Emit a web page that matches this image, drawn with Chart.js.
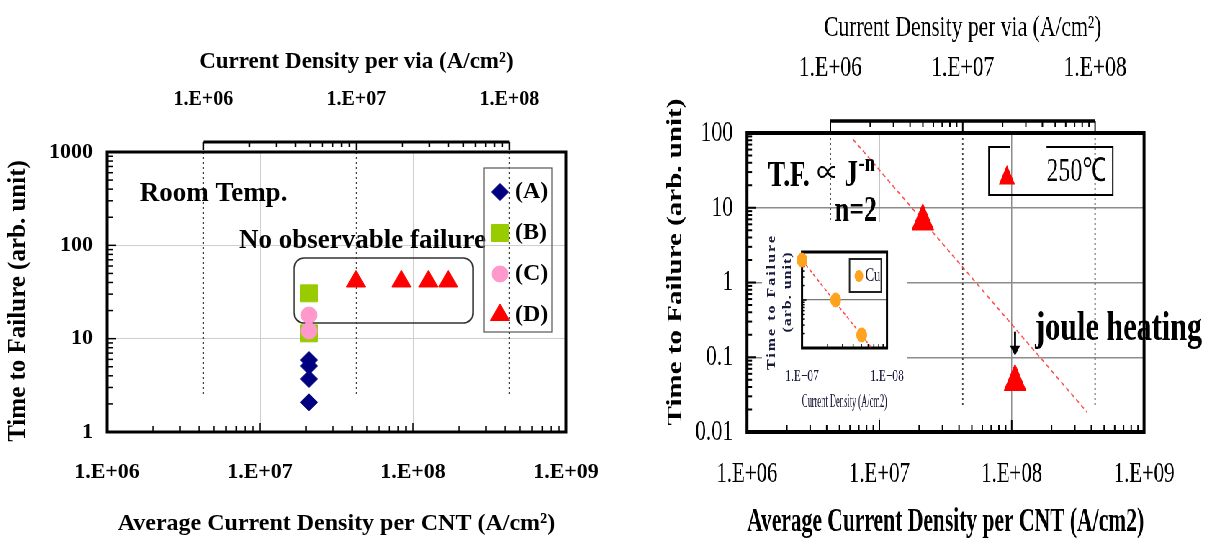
<!DOCTYPE html>
<html>
<head>
<meta charset="utf-8">
<title>CNT via lifetime</title>
<script src="https://cdn.jsdelivr.net/npm/chart.js@4.4.1/dist/chart.umd.min.js"></script>
<style>
  html, body { margin: 0; padding: 0; background: #fff; }
  body { width: 1208px; height: 546px; position: relative; overflow: hidden; }
  canvas { display: block; }
  #leftPanel { position: absolute; left: 0; top: 0; }
  /* the right-hand figure is horizontally squeezed in the original */
  #rightPanel { position: absolute; left: 600px; top: 0; width: 845px; height: 546px;
                transform: scaleX(0.72); transform-origin: 0 0; }
  #insetPanel { position: absolute; left: 225px; top: 222px; width: 201px; height: 196px; background: #fff; }
</style>
</head>
<body>
<div id="leftPanel"><canvas id="roomTemp" width="600" height="546"></canvas></div>
<div id="rightPanel">
  <canvas id="hotTemp" width="845" height="546"></canvas>
  <div id="insetPanel"><canvas id="cuInset" width="201" height="196"></canvas></div>
</div>
<script>
// room temperature, current density per CNT vs time to failure
var densityA = [2.09e7, 2.09e7, 2.09e7, 2.09e7];
var failA = [5.9, 5.1, 3.7, 2.08];
var densityB = [2.09e7, 2.09e7];
var failB = [30.6, 11.4];
var densityC = [2.09e7, 2.09e7];
var failC = [17.9, 12.1];
var densityD = [4.24e7, 8.4e7, 1.26e8, 1.7e8];
var failD = [41, 41, 41, 41];

// 250C
var hotDensity = [2.13e7, 1.06e8];
var hotFail = [6.6, 0.047];
var hotFitDensity = [6.3e6, 3.7e8];
var hotFitFail = [83, 0.0185];

// Cu inset
var cuDensity = [1.0e7, 2.49e7, 5.04e7];
var cuFail = [6.8, 1.0, 0.187];
var cuFitDensity = [1.0e7, 6.6e7];
var cuFitFail = [6.8, 0.1];

// ticks
var cntTicks = [1e6, 1e7, 1e8, 1e9];
var viaTicks = [1e6, 1e7, 1e8];
var roomFailTicks = [1, 10, 100, 1000];
var hotFailTicks = [0.01, 0.1, 1, 10, 100];
var cuDensityTicks = [1e7, 1e8];
var cuFailTicks = [0.1, 1, 10];

// per-via density axis sits this many decades left of the per-CNT one
var viaShift = Math.pow(10, 0.63);

var serif = '"Liberation Serif", "Times New Roman", serif';
Chart.defaults.font.family = serif;
Chart.defaults.color = '#000';

function pts(xs, ys) {
  return xs.map(function (x, i) { return { x: x, y: ys[i] }; });
}
function sci(v) {
  var e = Math.round(Math.log10(v));
  return '1.E' + (e < 0 ? '-' : '+') + String(Math.abs(e)).padStart(2, '0');
}
function plain(v) { return String(v); }
function fixTicks(list) {
  return function (scale) { scale.ticks = list.map(function (v) { return { value: v }; }); };
}
function fixHeight(h) {
  return function (scale) { scale.height = h; scale.paddingLeft = 0; scale.paddingRight = 0; };
}
function fixWidth(w) {
  return function (scale) { scale.width = w; scale.paddingTop = 0; scale.paddingBottom = 0; };
}
function logSteps(min, max) {
  var out = [];
  var e0 = Math.floor(Math.log10(min) + 1e-9), e1 = Math.ceil(Math.log10(max) - 1e-9);
  for (var e = e0; e <= e1; e++) {
    for (var m = 1; m <= 9; m++) {
      var v = m * Math.pow(10, e);
      if (v >= min * 0.999 && v <= max * 1.001) out.push({ v: v, major: m === 1 });
    }
  }
  return out;
}
function vText(ctx, text, x, y, spacing) {
  ctx.save();
  ctx.translate(x, y);
  ctx.rotate(-Math.PI / 2);
  ctx.letterSpacing = spacing || '0px';
  ctx.fillText(text, 0, 0);
  ctx.restore();
}

// frame, inner ticks, per-via bar on top, dotted guides
function paper(cfg) {
  return {
    id: 'paper',
    beforeDatasetsDraw: function (chart) {
      var ctx = chart.ctx, a = chart.chartArea, s = chart.scales;
      ctx.save();
      if (s.xv && cfg.dotEnd) {
        var yEnd = s.y.getPixelForValue(cfg.dotEnd);
        ctx.strokeStyle = '#404040';
        ctx.lineWidth = cfg.dotWidth;
        ctx.setLineDash([2, 3]);
        viaTicks.forEach(function (v) {
          var px = s.xv.getPixelForValue(v);
          ctx.beginPath(); ctx.moveTo(px, a.top); ctx.lineTo(px, yEnd); ctx.stroke();
        });
        ctx.setLineDash([]);
      }
      ctx.strokeStyle = '#000';
      ctx.lineWidth = cfg.tickWidth;
      logSteps(s.y.min, s.y.max).forEach(function (t) {
        var p = s.y.getPixelForValue(t.v);
        ctx.beginPath(); ctx.moveTo(a.left, p); ctx.lineTo(a.left + (t.major ? cfg.major : cfg.minor), p); ctx.stroke();
      });
      logSteps(s.x.min, s.x.max).forEach(function (t) {
        var p = s.x.getPixelForValue(t.v);
        ctx.beginPath(); ctx.moveTo(p, a.bottom); ctx.lineTo(p, a.bottom - (t.major ? cfg.major : cfg.minor)); ctx.stroke();
      });
      ctx.lineWidth = cfg.frame;
      ctx.strokeRect(a.left, a.top, a.right - a.left, a.bottom - a.top);
      if (s.xv) {
        var lo = viaTicks[0], hi = viaTicks[viaTicks.length - 1];
        var y0 = a.top - cfg.barGap;
        ctx.lineWidth = cfg.barWidth;
        ctx.beginPath(); ctx.moveTo(s.xv.getPixelForValue(lo), y0); ctx.lineTo(s.xv.getPixelForValue(hi), y0); ctx.stroke();
        ctx.lineWidth = cfg.tickWidth;
        logSteps(lo, hi).forEach(function (t) {
          var p = s.xv.getPixelForValue(t.v);
          ctx.beginPath(); ctx.moveTo(p, y0); ctx.lineTo(p, y0 + (t.major ? cfg.barMajor : cfg.barMinor)); ctx.stroke();
        });
        ctx.fillStyle = '#000';
        ctx.font = cfg.viaTitle.font;
        ctx.textAlign = 'center';
        ctx.textBaseline = 'middle';
        ctx.fillText(cfg.viaTitle.text, s.xv.getPixelForValue(viaTicks[1]), cfg.viaTitle.y);
      }
      if (cfg.yTitle) {
        ctx.fillStyle = '#000';
        ctx.font = cfg.yTitle.font;
        ctx.textAlign = 'center';
        ctx.textBaseline = 'middle';
        vText(ctx, cfg.yTitle.text, cfg.yTitle.x, cfg.yTitle.y);
      }
      ctx.restore();
      if (cfg.under) cfg.under(chart);
    },
    afterDraw: function (chart) {
      if (cfg.over) cfg.over(chart);
    }
  };
}

function baseOptions(padding) {
  return {
    responsive: false,
    animation: false,
    devicePixelRatio: 1,
    layout: { autoPadding: false, padding: padding },
    plugins: { legend: { display: false }, tooltip: { enabled: false } },
    events: []
  };
}

// ---------- left: room temperature ----------
var noFailBox = { x0: 1.67e7, x1: 2.47e8, y0: 73, y1: 14.7 };

function roomUnder(chart) {
  var ctx = chart.ctx, x = chart.scales.x, y = chart.scales.y;
  var x0 = x.getPixelForValue(noFailBox.x0), x1 = x.getPixelForValue(noFailBox.x1);
  var y0 = y.getPixelForValue(noFailBox.y0), y1 = y.getPixelForValue(noFailBox.y1);
  var r = 10;
  ctx.save();
  ctx.strokeStyle = '#333';
  ctx.lineWidth = 1.5;
  ctx.beginPath();
  ctx.moveTo(x0 + r, y0);
  ctx.arcTo(x1, y0, x1, y1, r);
  ctx.arcTo(x1, y1, x0, y1, r);
  ctx.arcTo(x0, y1, x0, y0, r);
  ctx.arcTo(x0, y0, x1, y0, r);
  ctx.closePath();
  ctx.stroke();
  ctx.restore();
}

function roomOver(chart) {
  var ctx = chart.ctx, a = chart.chartArea, x = chart.scales.x, y = chart.scales.y;
  ctx.save();
  ctx.fillStyle = '#000';
  ctx.textAlign = 'left';
  ctx.textBaseline = 'alphabetic';
  ctx.font = 'bold 27px ' + serif;
  ctx.fillText('Room Temp.', x.getPixelForValue(1.64e6), y.getPixelForValue(299));
  ctx.fillText('No observable failure', x.getPixelForValue(7.3e6), y.getPixelForValue(93.6));

  var bx = a.left + 377, by = a.top + 16, bw = 68, bh = 164;
  ctx.strokeStyle = '#555';
  ctx.lineWidth = 1.2;
  ctx.strokeRect(bx, by, bw, bh);
  ctx.font = 'bold 24px ' + serif;
  ctx.textBaseline = 'middle';
  chart.data.datasets.forEach(function (ds, i) {
    var cy = by + 24 + i * 41;
    ctx.fillStyle = ds.backgroundColor;
    ctx.strokeStyle = ds.borderColor;
    ctx.lineWidth = 1;
    Chart.helpers.drawPoint(ctx, { pointStyle: ds.pointStyle, rotation: 0, radius: ds.pointRadius, borderWidth: 1 }, bx + 16, cy);
    ctx.fillStyle = '#000';
    ctx.fillText(ds.label, bx + 31, cy);
  });
  ctx.restore();
}

new Chart(document.getElementById('roomTemp'), {
  type: 'scatter',
  data: {
    datasets: [
      { label: '(A)', data: pts(densityA, failA), pointStyle: 'rectRot', pointRadius: 8.5,
        backgroundColor: '#000080', borderColor: '#000080', order: 1 },
      { label: '(B)', data: pts(densityB, failB), pointStyle: 'rect', pointRadius: 12,
        backgroundColor: '#99cc00', borderColor: '#99cc00', order: 3 },
      { label: '(C)', data: pts(densityC, failC), pointStyle: 'circle', pointRadius: 8,
        backgroundColor: '#ff99cc', borderColor: '#ff99cc', order: 2 },
      { label: '(D)', data: pts(densityD, failD), pointStyle: 'triangle', pointRadius: 11,
        backgroundColor: '#ff0000', borderColor: '#ff0000', order: 4 }
    ]
  },
  options: Object.assign(baseOptions({ left: 0, top: 0, right: 34, bottom: 0 }), {
    scales: {
      x: {
        type: 'logarithmic', position: 'bottom', min: 1e6, max: 1e9,
        afterFit: fixHeight(114), afterBuildTicks: fixTicks(cntTicks),
        grid: { color: '#cfcfcf', lineWidth: 1, drawTicks: false },
        border: { display: false },
        ticks: { callback: sci, font: { size: 22, weight: 'bold' }, padding: 27, maxRotation: 0, autoSkip: false },
        title: { display: true, text: 'Average Current Density per CNT (A/cm²)',
                 font: { size: 24, weight: 'bold' }, padding: { top: 0, bottom: 8 } }
      },
      xv: {
        type: 'logarithmic', position: 'top', min: 1e6 / viaShift, max: 1e9 / viaShift,
        afterFit: fixHeight(152), afterBuildTicks: fixTicks(viaTicks),
        grid: { display: false, drawTicks: false }, border: { display: false },
        ticks: { callback: sci, font: { size: 20, weight: 'bold' }, padding: 40, maxRotation: 0, autoSkip: false }
      },
      y: {
        type: 'logarithmic', position: 'left', min: 1, max: 1000,
        afterFit: fixWidth(107), afterBuildTicks: fixTicks(roomFailTicks),
        grid: { color: '#cfcfcf', lineWidth: 1, drawTicks: false },
        border: { display: false },
        ticks: { callback: plain, font: { size: 22, weight: 'bold' }, padding: 14 }
      }
    }
  }),
  plugins: [paper({
    frame: 3, tickWidth: 1.5, major: 9, minor: 6,
    barGap: 10, barWidth: 3, barMajor: 8, barMinor: 5,
    dotEnd: 2.37, dotWidth: 1.2,
    viaTitle: { text: 'Current Density per via (A/cm²)', font: 'bold 23px ' + serif, y: 62 },
    yTitle: { text: 'Time to Failure (arb. unit)', font: 'bold 25px ' + serif, x: 19, y: 301 },
    under: roomUnder, over: roomOver
  })]
});

// ---------- right: 250C ----------
function hotOver(chart) {
  var ctx = chart.ctx, a = chart.chartArea, x = chart.scales.x, y = chart.scales.y;
  ctx.save();
  ctx.fillStyle = '#000';
  ctx.textAlign = 'left';
  ctx.textBaseline = 'alphabetic';
  var tx = x.getPixelForValue(1.44e6), ty = y.getPixelForValue(19.5);
  ctx.font = 'bold 36px ' + serif;
  ctx.fillText('T.F.', tx, ty);
  ctx.font = '30px "Noto Sans CJK JP", "DejaVu Sans", sans-serif';
  ctx.fillText('∝', tx + 68, ty - 3);
  ctx.font = 'bold 38px ' + serif;
  ctx.fillText('J', tx + 106, ty);
  ctx.font = 'bold 25px ' + serif;
  ctx.fillText('-n', tx + 126, ty - 15);
  ctx.font = 'bold 36px ' + serif;
  ctx.fillText('n=2', x.getPixelForValue(4.6e6), y.getPixelForValue(6.6));
  ctx.font = 'bold 42px ' + serif;
  ctx.fillText('joule heating', x.getPixelForValue(1.5e8), y.getPixelForValue(0.172));

  // arrow onto the joule-heated point
  var ax = x.getPixelForValue(hotDensity[1]);
  var ay0 = y.getPixelForValue(0.22), ay1 = y.getPixelForValue(0.105);
  ctx.strokeStyle = '#000';
  ctx.lineWidth = 2.8;
  ctx.beginPath(); ctx.moveTo(ax, ay0); ctx.lineTo(ax, ay1 - 8); ctx.stroke();
  ctx.beginPath(); ctx.moveTo(ax - 7, ay1 - 10); ctx.lineTo(ax + 7, ay1 - 10); ctx.lineTo(ax, ay1); ctx.closePath(); ctx.fill();

  // legend
  var bx = a.left + 336, by = 147, bw = 172, bh = 48;
  ctx.lineWidth = 2;
  ctx.beginPath();
  ctx.moveTo(bx + 80, by); ctx.lineTo(bx + bw, by); ctx.lineTo(bx + bw, by + bh);
  ctx.lineTo(bx, by + bh); ctx.lineTo(bx, by); ctx.lineTo(bx + 29, by);
  ctx.stroke();
  var ds = chart.data.datasets[0];
  ctx.fillStyle = ds.backgroundColor;
  Chart.helpers.drawPoint(ctx, { pointStyle: 'triangle', rotation: 0, radius: 13, borderWidth: 0 }, bx + 25, by + 31);
  ctx.fillStyle = '#000';
  ctx.font = '33px ' + serif;
  ctx.fillText(ds.label, bx + 80, by + 34);
  ctx.restore();
}

new Chart(document.getElementById('hotTemp'), {
  type: 'scatter',
  data: {
    datasets: [
      { label: '250℃', data: pts(hotDensity, hotFail), pointStyle: 'triangle', pointRadius: 17.5,
        backgroundColor: '#ff0000', borderColor: '#ff0000', order: 1 },
      { label: 'fit', data: pts(hotFitDensity, hotFitFail), showLine: true, pointRadius: 0,
        borderColor: 'rgba(255,50,50,0.85)', borderWidth: 1.6, borderDash: [5, 4], order: 2 }
    ]
  },
  options: Object.assign(baseOptions({ left: 0, top: 0, right: 89.4, bottom: 0 }), {
    scales: {
      x: {
        type: 'logarithmic', position: 'bottom', min: 1e6, max: 1e9,
        afterFit: fixHeight(114), afterBuildTicks: fixTicks(cntTicks),
        grid: { color: '#8c8c8c', lineWidth: 1.5, drawTicks: false },
        border: { display: false },
        ticks: { callback: sci, font: { size: 29 }, padding: 24.6, maxRotation: 0, autoSkip: false },
        title: { display: true, text: 'Average Current Density per CNT (A/cm2)',
                 font: { size: 33, weight: 'bold' }, padding: { top: 0, bottom: 3.5 } }
      },
      xv: {
        type: 'logarithmic', position: 'top', min: 1e6 / viaShift, max: 1e9 / viaShift,
        afterFit: fixHeight(133), afterBuildTicks: fixTicks(viaTicks),
        grid: { display: false, drawTicks: false }, border: { display: false },
        ticks: { callback: sci, font: { size: 30 }, padding: 47, maxRotation: 0, autoSkip: false }
      },
      y: {
        type: 'logarithmic', position: 'left', min: 0.01, max: 100,
        afterFit: fixWidth(204.2), afterBuildTicks: fixTicks(hotFailTicks),
        grid: { color: '#8c8c8c', lineWidth: 1.5, drawTicks: false },
        border: { display: false },
        ticks: { callback: plain, font: { size: 30 }, padding: 19.5 }
      }
    }
  }),
  plugins: [paper({
    frame: 4, tickWidth: 2, major: 12, minor: 7,
    barGap: 12, barWidth: 3.5, barMajor: 10, barMinor: 6,
    dotEnd: 0.0217, dotWidth: 1.8,
    viaTitle: { text: 'Current Density per via (A/cm²)', font: '30px ' + serif, y: 28 },
    yTitle: { text: 'Time to Failure (arb. unit)', font: 'bold 29px ' + serif, x: 105.6, y: 262 },
    over: hotOver
  })]
});

// ---------- inset: Cu ----------
var insetInk = '#1a1a3a';

function cuOver(chart) {
  var ctx = chart.ctx, a = chart.chartArea;
  ctx.save();
  ctx.fillStyle = insetInk;
  ctx.textAlign = 'center';
  ctx.textBaseline = 'middle';
  ctx.font = 'bold 16px ' + serif;
  vText(ctx, 'Time to Failure', 14, 80, '2px');
  vText(ctx, '(arb. unit)', 36, 70, '1px');

  var bx = a.left + 66, by = a.top + 7, bw = 44, bh = 33;
  ctx.strokeStyle = '#222';
  ctx.lineWidth = 2;
  ctx.strokeRect(bx, by, bw, bh);
  var ds = chart.data.datasets[0];
  ctx.fillStyle = ds.backgroundColor;
  Chart.helpers.drawPoint(ctx, { pointStyle: 'circle', rotation: 0, radius: 6, borderWidth: 0 }, bx + 13, by + 17);
  ctx.fillStyle = insetInk;
  ctx.textAlign = 'left';
  ctx.font = '18px ' + serif;
  ctx.fillText(ds.label, bx + 22, by + 17);
  ctx.restore();
}

new Chart(document.getElementById('cuInset'), {
  type: 'scatter',
  data: {
    datasets: [
      { label: 'Cu', data: pts(cuDensity, cuFail), pointStyle: 'circle', pointRadius: 7,
        backgroundColor: '#ffa21f', borderColor: '#ffa21f', clip: false, order: 1 },
      { label: 'fit', data: pts(cuFitDensity, cuFitFail), showLine: true, pointRadius: 0,
        borderColor: 'rgba(255,40,40,0.85)', borderWidth: 1.5, borderDash: [4, 3], order: 2 }
    ]
  },
  options: Object.assign(baseOptions({ left: 0, top: 30, right: 27.4, bottom: 0 }), {
    scales: {
      x: {
        type: 'logarithmic', position: 'bottom', min: 1e7, max: 1e8,
        afterFit: fixHeight(70), afterBuildTicks: fixTicks(cuDensityTicks),
        grid: { display: false, drawTicks: false }, border: { display: false },
        ticks: { callback: sci, font: { size: 16 }, color: insetInk, padding: 19, maxRotation: 0, autoSkip: false },
        title: { display: true, text: 'Current Density (A/cm2)', color: insetInk,
                 font: { size: 19 }, padding: { top: 0, bottom: 4.6 } }
      },
      y: {
        type: 'logarithmic', position: 'left', min: 0.1, max: 10,
        afterFit: fixWidth(55.6), afterBuildTicks: fixTicks(cuFailTicks),
        grid: { color: '#777', lineWidth: 1.2, drawTicks: false }, border: { display: false },
        ticks: { display: false }
      }
    }
  }),
  plugins: [paper({ frame: 3, tickWidth: 1.5, major: 6, minor: 4, over: cuOver })]
});
</script>
</body>
</html>
